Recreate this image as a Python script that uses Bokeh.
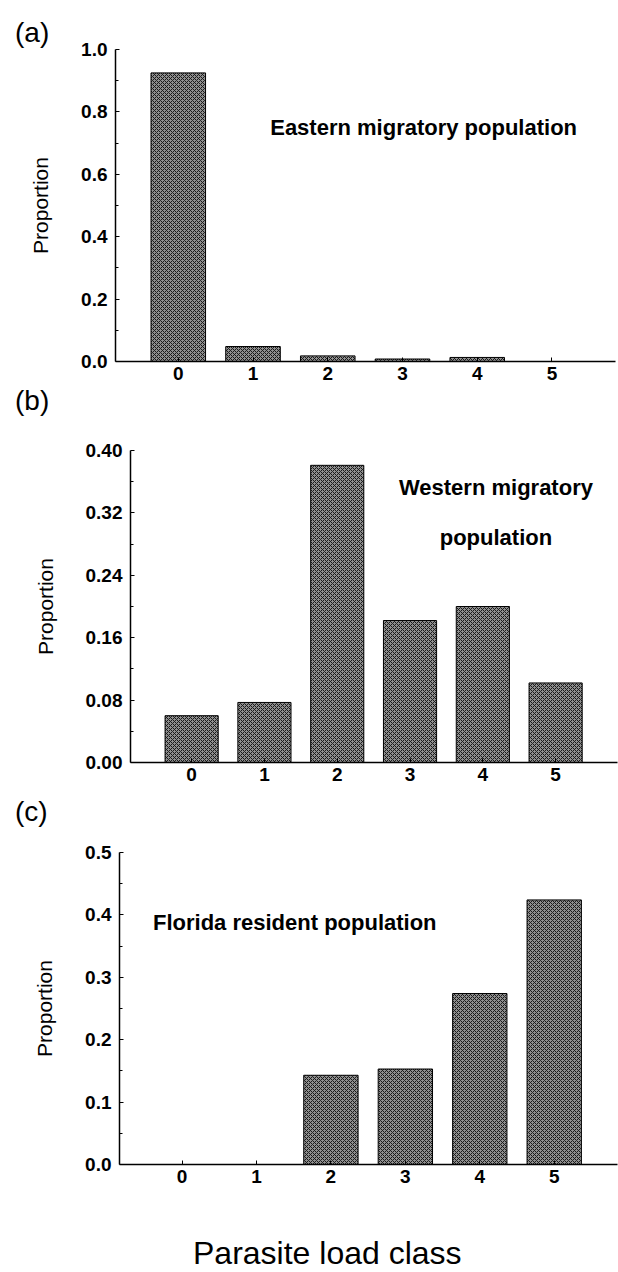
from bokeh.plotting import figure
from bokeh.models import FixedTicker, Label, PrintfTickFormatter, ColumnDataSource, Div
from bokeh.embed import file_html
from bokeh.resources import INLINE

classes = [0, 1, 2, 3, 4, 5]
class_labels = ["0", "1", "2", "3", "4", "5"]
eastern = [0.925, 0.048, 0.018, 0.008, 0.013, 0.0]
western = [0.060, 0.077, 0.381, 0.182, 0.200, 0.102]
florida = [0.0, 0.0, 0.143, 0.153, 0.274, 0.424]

a_ticks = [0.0, 0.2, 0.4, 0.6, 0.8, 1.0]
a_minor = [0.1, 0.3, 0.5, 0.7, 0.9]
b_ticks = [0.0, 0.08, 0.16, 0.24, 0.32, 0.40]
b_minor = [0.04, 0.12, 0.20, 0.28, 0.36]
c_ticks = [0.0, 0.1, 0.2, 0.3, 0.4, 0.5]
c_minor = [0.05, 0.15, 0.25, 0.35, 0.45]

FONT = "Liberation Sans"


def make_panel(vals, ymax, ticks, minor, fmt, height, bl, bt, bb, br):
    p = figure(width=618, height=height, output_backend="svg", toolbar_location=None,
               x_range=(-0.84, 5.85), y_range=(0, ymax),
               min_border_left=bl, min_border_top=bt, min_border_bottom=bb, min_border_right=br)
    p.outline_line_color = None
    p.grid.visible = False
    src = ColumnDataSource(dict(x=classes, top=vals))
    p.vbar(x="x", top="top", bottom=0, width=0.73, source=src,
           fill_color="#8f8f8f", line_color="black", line_width=1,
           hatch_pattern="x", hatch_scale=4, hatch_color="#1a1a1a", hatch_weight=1)
    ya = p.yaxis[0]
    ya.ticker = FixedTicker(ticks=ticks, minor_ticks=minor)
    ya.formatter = PrintfTickFormatter(format=fmt)
    ya.major_tick_in = 4
    ya.major_tick_out = 0
    ya.minor_tick_in = 3
    ya.minor_tick_out = 0
    ya.axis_line_width = 1.5
    ya.axis_line_color = "black"
    ya.major_tick_line_color = "black"
    ya.minor_tick_line_color = "black"
    ya.major_label_text_color = "black"
    ya.major_label_text_font = FONT
    ya.major_label_text_font_style = "bold"
    ya.major_label_text_font_size = "19px"
    ya.major_label_standoff = 8
    ya.axis_label = "Proportion"
    ya.axis_label_text_color = "black"
    ya.axis_label_text_font = FONT
    ya.axis_label_text_font_style = "normal"
    ya.axis_label_text_font_size = "21px"
    ya.axis_label_standoff = 26
    xa = p.xaxis[0]
    xa.ticker = FixedTicker(ticks=classes, minor_ticks=[])
    xa.major_label_overrides = {c: l for c, l in zip(classes, class_labels)}
    xa.major_tick_in = 4
    xa.major_tick_out = 0
    xa.minor_tick_in = 0
    xa.minor_tick_out = 0
    xa.axis_line_width = 1.5
    xa.axis_line_color = "black"
    xa.major_tick_line_color = "black"
    xa.major_label_text_color = "black"
    xa.major_label_text_font = FONT
    xa.major_label_text_font_style = "bold"
    xa.major_label_text_font_size = "19px"
    xa.major_label_standoff = 5
    return p


pa = make_panel(eastern, 1.0, a_ticks, a_minor, "%.1f", 395, 115, 49, 34, 3)
pb = make_panel(western, 0.40, b_ticks, b_minor, "%.2f", 405, 130, 55, 38, 1)
pc = make_panel(florida, 0.5, c_ticks, c_minor, "%.1f", 472, 119, 52, 108, 1)


def ann(p, x, y, text, align):
    p.add_layout(Label(x=x, y=y, text=text, text_font=FONT, text_color="black",
                       text_font_style="bold", text_font_size="22px",
                       text_baseline="middle", text_align=align))


ann(pa, 1.23, 0.75, "Eastern migratory population", "left")
ann(pb, 4.18, 0.3526, "Western migratory", "center")
ann(pb, 4.18, 0.288, "population", "center")
ann(pc, -0.39, 0.388, "Florida resident population", "left")


def overlay(text, left, top, size, w, h):
    return Div(text=text, width=w, height=h,
               styles={"position": "absolute", "left": f"{left}px", "top": f"{top}px",
                       "font-family": FONT, "font-size": f"{size}px", "line-height": f"{size}px",
                       "color": "black", "z-index": "10", "white-space": "nowrap",
                       "overflow": "visible"})


divs = [
    overlay("(a)", 10, 14, 28, 50, 30),
    overlay("(b)", 10, 382, 28, 50, 30),
    overlay("(c)", 10, 793, 28, 50, 30),
    overlay("Parasite load class", 188, 1232, 32, 320, 34),
]

open("out.html", "w").write(file_html([pa, pb, pc] + divs, INLINE))
